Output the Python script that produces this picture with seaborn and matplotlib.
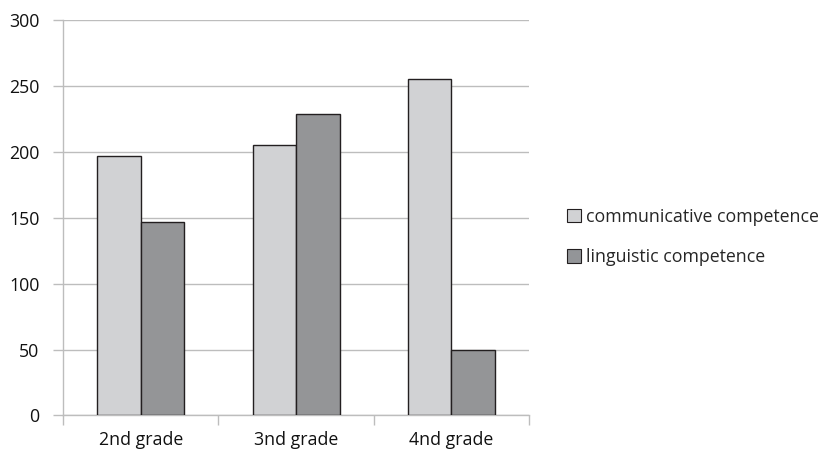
import matplotlib
matplotlib.use("Agg")
import matplotlib.pyplot as plt
import seaborn as sns
import pandas as pd
from matplotlib.patches import Patch

grades = ["2nd grade", "3nd grade", "4nd grade"]
communicative = [197, 205, 255]
linguistic = [147, 229, 50]
series_names = ["communicative competence", "linguistic competence"]
y_ticks = [0, 50, 100, 150, 200, 250, 300]

df = pd.DataFrame({
    "grade": grades * 2,
    "value": communicative + linguistic,
    "series": [series_names[0]] * len(grades) + [series_names[1]] * len(grades),
})

sns.set_style("white")
plt.rcParams["font.family"] = ["Open Sans", "DejaVu Sans"]

colors = ["#d1d2d4", "#939598"]
grid_col = "#bdbdbd"
fs = 12.8

fig = plt.figure(figsize=(8.38, 4.58), dpi=100)
ax = fig.add_axes([0.0752, 0.0928, 0.5561, 0.8635])

sns.barplot(data=df, x="grade", y="value", hue="series", palette=colors,
            width=0.56, gap=0, edgecolor="#231f20", linewidth=1.0,
            ax=ax, legend=False, zorder=3)

ax.set_xlim(-0.5, 2.5)
ax.set_ylim(0, 300)
ax.set_yticks(y_ticks)
ax.set_xlabel("")
ax.set_ylabel("")

ax.yaxis.grid(True, color=grid_col, linewidth=1.0, zorder=0)
ax.set_axisbelow(True)

for side in ["top", "right"]:
    ax.spines[side].set_visible(False)
for side in ["left", "bottom"]:
    ax.spines[side].set_color(grid_col)
    ax.spines[side].set_linewidth(1.0)

ax.tick_params(axis="y", length=7, width=1.0, color=grid_col, labelsize=fs,
               pad=10, left=True, labelcolor="#111111")
ax.set_xticks([-0.5, 0.5, 1.5, 2.5], minor=True)
ax.tick_params(axis="x", which="minor", length=7, width=1.0, color=grid_col,
               bottom=True)
ax.tick_params(axis="x", which="major", length=0, labelsize=fs, pad=11,
               labelcolor="#111111")

handles = [Patch(facecolor=c, edgecolor="#231f20", linewidth=0.8) for c in colors]
fig.legend(handles, series_names, loc="center left",
           bbox_to_anchor=(0.668, 0.483), frameon=False, fontsize=fs,
           handlelength=0.8, handleheight=0.8, handletextpad=0.3,
           labelspacing=1.25, borderaxespad=0)

fig.savefig("out.png", dpi=100)
